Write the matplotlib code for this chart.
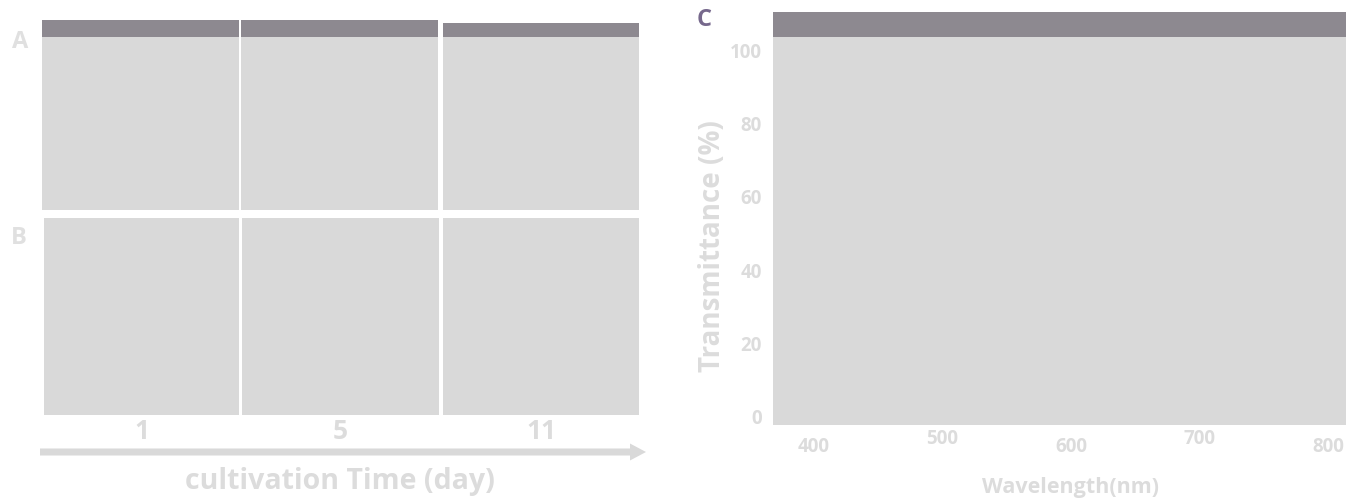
import matplotlib.pyplot as plt
from matplotlib.patches import FancyArrow

plt.rcParams['font.family'] = ['Open Sans', 'DejaVu Sans']
plt.rcParams['font.weight'] = 'bold'

W, H = 1346, 504
panel_grey = '#d9d9d9'
text_grey = '#dcdcdc'
noise_col = '#8d8990'

days = [1, 5, 11]
wave_ticks = [400, 500, 600, 700, 800]
trans_ticks = [0, 20, 40, 60, 80, 100]

# pixel boxes (left, top, right, bottom) of the image panels
top_row = [(42, 20, 239, 210), (241, 20, 438, 210), (443, 23, 639, 210)]
bot_row = [(44, 218, 239, 415), (242, 218, 439, 415), (443, 218, 639, 415)]
band_bottom = 37


def box(l, t, r, b):
    return [l / W, 1 - b / H, (r - l) / W, (b - t) / H]


fig = plt.figure(figsize=(W / 100, H / 100), dpi=100)

for (l, t, r, b) in top_row:
    ax = fig.add_axes(box(l, t, r, b))
    ax.set_facecolor(panel_grey)
    ax.set_xlim(0, 1)
    ax.set_ylim(b, t)
    ax.axhspan(t, band_bottom, color=noise_col, lw=0)
    ax.set_xticks([])
    ax.set_yticks([])
    for s in ax.spines.values():
        s.set_visible(False)

for (l, t, r, b), d in zip(bot_row, days):
    ax = fig.add_axes(box(l, t, r, b))
    ax.set_facecolor(panel_grey)
    ax.set_xlim(0, 1)
    ax.set_xticks([0.5])
    ax.set_xticklabels([str(d)], fontsize=19, color=text_grey,
                       fontweight='bold')
    ax.tick_params(axis='x', length=0, pad=2)
    ax.set_yticks([])
    for s in ax.spines.values():
        s.set_visible(False)

# overlay in pixel units for arrow and panel letters
ov = fig.add_axes([0, 0, 1, 1])
ov.set_xlim(0, W)
ov.set_ylim(H, 0)
ov.axis('off')
ov.add_patch(FancyArrow(40, 452, 590, 0, width=7, head_width=17,
                        head_length=16, length_includes_head=False,
                        color=panel_grey, lw=0))
ov.text(340, 481, 'cultivation Time (day)', ha='center', va='center',
        fontsize=20.5, color=text_grey, fontweight='bold')
ov.text(20, 42, 'A', ha='center', va='center', fontsize=17,
        color='#e0e0e0', fontweight='bold')
ov.text(19, 238, 'B', ha='center', va='center', fontsize=17,
        color='#e0e0e0', fontweight='bold')
ov.text(704, 20, 'C', ha='center', va='center', fontsize=17,
        color='#76688c', fontweight='bold')
ov.text(1070, 487, 'Wavelength(nm)', ha='center', va='center',
        fontsize=15.5, color=text_grey, fontweight='bold')

# transmittance panel
axc = fig.add_axes(box(773, 12, 1346, 425))
axc.set_facecolor(panel_grey)
axc.set_xlim(368.1, 813.7)
axc.set_ylim(-2.2, 110.4)
axc.axhspan(103.5, 110.4, color=noise_col, lw=0)
for s in axc.spines.values():
    s.set_visible(False)
axc.set_yticks(trans_ticks)
axc.set_yticklabels([str(v) for v in trans_ticks], fontweight='bold')
axc.tick_params(axis='y', length=0, pad=8, labelsize=13.5,
                labelcolor=text_grey)
axc.set_xticks(wave_ticks[::2])
axc.set_xticks(wave_ticks[1::2], minor=True)
axc.set_xticklabels([str(v) for v in wave_ticks[::2]], fontweight='bold')
axc.set_xticklabels([str(v) for v in wave_ticks[1::2]], minor=True,
                    fontweight='bold')
axc.tick_params(axis='x', which='major', length=0, pad=9, labelsize=13.5,
                labelcolor=text_grey)
axc.tick_params(axis='x', which='minor', length=0, pad=3, labelsize=13.5,
                labelcolor=text_grey)
axc.set_ylabel('Transmittance (%)', fontsize=20, color=text_grey,
               labelpad=2, fontweight='bold')
axc.yaxis.set_label_coords(-0.08, (425 - 246) / 413)

fig.savefig('out.png', dpi=100)
